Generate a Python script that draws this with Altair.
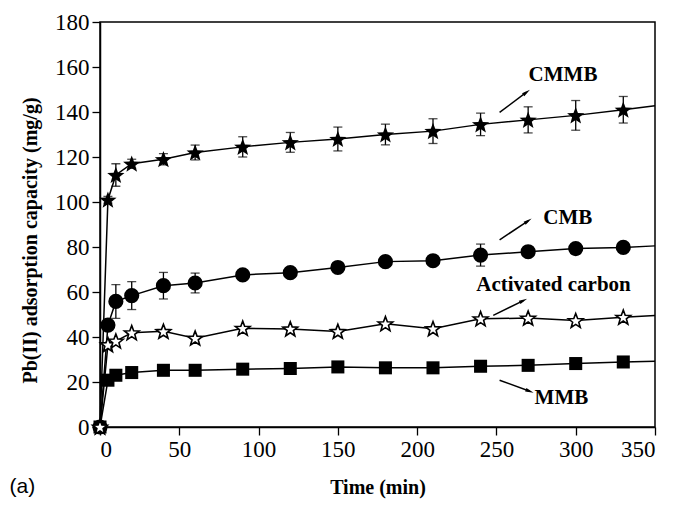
import math
import altair as alt
import pandas as pd

# ---- data ----
time_min = [0, 5, 10, 20, 40, 60, 90, 120, 150, 180, 210, 240, 270, 300, 330]
cmmb = [0, 101, 112, 117, 119, 122, 124.5, 126.5, 128, 130, 131.5, 134.5, 136.5, 138.5, 141]
cmmb_err = [0, 1.5, 5, 2, 2.5, 3.3, 4.5, 4.4, 5.3, 4.6, 5.5, 5, 5.8, 6.6, 5.9]
cmb = [0, 45.3, 55.8, 58.4, 62.8, 64, 67.6, 68.6, 70.9, 73.5, 73.9, 76.4, 77.9, 79.3, 79.8]
cmb_err = [0, 0, 7.5, 6.2, 5.9, 4.4, 1.5, 1, 1, 2, 1.5, 4.9, 2, 1.5, 1]
activated = [0, 36.6, 38.2, 41.9, 42.5, 39.5, 43.9, 43.6, 42.5, 45.9, 43.7, 48.1, 48.4, 47.3, 48.8]
mmb = [0, 20.8, 23, 24.2, 25.2, 25.2, 25.7, 26, 26.7, 26.3, 26.3, 27, 27.4, 28.2, 28.9]

# trend lines continue to the right edge of the frame
end_time = 350
end_values = {"CMMB": 142.8, "CMB": 80.5, "Activated carbon": 49.6, "MMB": 29.2}

series_names = ["CMMB", "CMB", "Activated carbon", "MMB"]
series_values = {"CMMB": cmmb, "CMB": cmb, "Activated carbon": activated, "MMB": mmb}
series_errors = {"CMMB": cmmb_err, "CMB": cmb_err,
                 "Activated carbon": [0] * len(time_min), "MMB": [0] * len(time_min)}

# annotation labels and arrows (data coordinates)
label_text = ["CMMB", "CMB", "Activated carbon", "MMB"]
label_t = [292, 295, 286, 291]
label_v = [156.3, 92.9, 63.2, 12.9]
arrow_t0 = [252, 252, 248, 252]
arrow_v0 = [139.8, 83.2, 49.6, 20.8]
arrow_t1 = [269, 270, 267, 271]
arrow_v1 = [148.8, 91.6, 56.2, 15.9]

W, H = 555, 405
XMAX, YMAX = 350, 180
SX, SY = W / XMAX, H / YMAX

rows = []
for s in series_names:
    for t, v, e in zip(time_min, series_values[s], series_errors[s]):
        rows.append({"series": s, "t": t, "v": v, "lo": v - e, "hi": v + e, "err": e})
df = pd.DataFrame(rows)

line_rows = df[["series", "t", "v"]].to_dict("records")
for s in series_names:
    line_rows.append({"series": s, "t": end_time, "v": end_values[s]})
line_df = pd.DataFrame(line_rows)

err_df = df[df["err"] > 0]

ann_df = pd.DataFrame({"text": label_text, "t": label_t, "v": label_v})
arr_df = pd.DataFrame({"t0": arrow_t0, "v0": arrow_v0, "t1": arrow_t1, "v1": arrow_v1})
arr_df["angle"] = [
    (math.degrees(math.atan2((a1 - a0) * SX, (b1 - b0) * SY)) + 360) % 360
    for a0, b0, a1, b1 in zip(arrow_t0, arrow_v0, arrow_t1, arrow_v1)
]

# five-pointed star symbol path (unit box)
_pts = []
for k in range(10):
    ang = math.radians(-90 + 36 * k)
    r = 1.0 if k % 2 == 0 else 0.42
    _pts.append(f"{r * math.cos(ang):.3f},{r * math.sin(ang) + 0.08:.3f}")
STAR = "M" + "L".join(_pts) + "Z"

FONT = "Liberation Serif"

xscale = alt.Scale(domain=[0, XMAX], nice=False, zero=False)
yscale = alt.Scale(domain=[0, YMAX], nice=False, zero=False)

x_axis = alt.Axis(
    title="Time (min)", orient="bottom",
    values=list(range(0, 351, 25)),
    labelExpr="datum.value % 50 === 0 ? datum.label : ''",
    tickSize={"condition": {"test": "datum.value % 50 === 0", "value": 8}, "value": 5},
    labelFont=FONT, labelFontSize=23,
    titleX=W / 2, titleY=60, titleBaseline="middle", titleAlign="center",
)
y_axis = alt.Axis(
    title="Pb(II) adsorption capacity (mg/g)", orient="left",
    values=list(range(0, 181, 10)),
    labelExpr="datum.value % 20 === 0 ? datum.label : ''",
    tickSize={"condition": {"test": "datum.value % 20 === 0", "value": 8}, "value": 5},
    labelFont=FONT, labelFontSize=23,
    titleX=-70, titleY=218, titleBaseline="middle", titleAlign="center", titleAngle=270,
)

X = alt.X("t:Q", scale=xscale, axis=x_axis)
Y = alt.Y("v:Q", scale=yscale, axis=y_axis)

lines = alt.Chart(line_df).mark_line(color="black", strokeWidth=1.5).encode(
    x=X, y=Y, detail="series:N", order="t:Q"
)

err_rules = alt.Chart(err_df).mark_rule(color="black", strokeWidth=1.3).encode(
    x="t:Q", y="lo:Q", y2="hi:Q"
)
cap_lo = alt.Chart(err_df).mark_tick(color="black", thickness=1.3, size=9, orient="horizontal").encode(
    x="t:Q", y="lo:Q"
)
cap_hi = alt.Chart(err_df).mark_tick(color="black", thickness=1.3, size=9, orient="horizontal").encode(
    x="t:Q", y="hi:Q"
)

def pts(name, **mark):
    return alt.Chart(df[df["series"] == name]).mark_point(**mark).encode(x="t:Q", y="v:Q")

p_mmb = pts("MMB", shape="square", filled=True, color="black", size=170, opacity=1)
p_cmb = pts("CMB", shape="circle", filled=True, color="black", size=230, opacity=1)
p_cmmb = pts("CMMB", shape=STAR, filled=True, color="black", size=330, opacity=1)
p_ac = pts("Activated carbon", shape=STAR, filled=True, fill="white", stroke="black",
           strokeWidth=1.6, size=240, opacity=1)

labels = alt.Chart(ann_df).mark_text(
    font=FONT, fontWeight="bold", fontSize=21, color="black", align="center", baseline="middle"
).encode(x="t:Q", y="v:Q", text="text:N")

arrow_lines = alt.Chart(arr_df).mark_rule(color="black", strokeWidth=1.5).encode(
    x="t0:Q", y="v0:Q", x2="t1:Q", y2="v1:Q"
)
arrow_heads = alt.Chart(arr_df).mark_point(
    shape="M0,-1L0.45,1L-0.45,1Z", filled=True, color="black", size=70, opacity=1
).encode(x="t1:Q", y="v1:Q", angle=alt.Angle("angle:Q", scale=None))

panel_df = pd.DataFrame({"t": [-57], "v": [-26.5], "text": ["(a)"]})
panel = alt.Chart(panel_df).mark_text(
    font="Liberation Sans", fontSize=21, color="black", align="left", baseline="middle"
).encode(x="t:Q", y="v:Q", text="text:N")

chart = alt.layer(
    lines, err_rules, cap_lo, cap_hi, p_mmb, p_cmb, p_cmmb, p_ac,
    arrow_lines, arrow_heads, labels, panel
).properties(
    width=W, height=H,
    autosize=alt.AutoSizeParams(type="none"),
    padding={"left": 92, "top": 14, "right": 12, "bottom": 72},
).configure_view(
    stroke="black", strokeWidth=1.5
).configure_axis(
    grid=False, domainColor="black", domainWidth=1.5, tickColor="black", tickWidth=1.3,
    labelFont=FONT, labelFontSize=23, labelColor="black", labelPadding=3,
    titleFont=FONT, titleFontSize=20, titleFontWeight="bold", titleColor="black",
)

chart.save("out.html", embed_options={"renderer": "svg", "actions": False})
